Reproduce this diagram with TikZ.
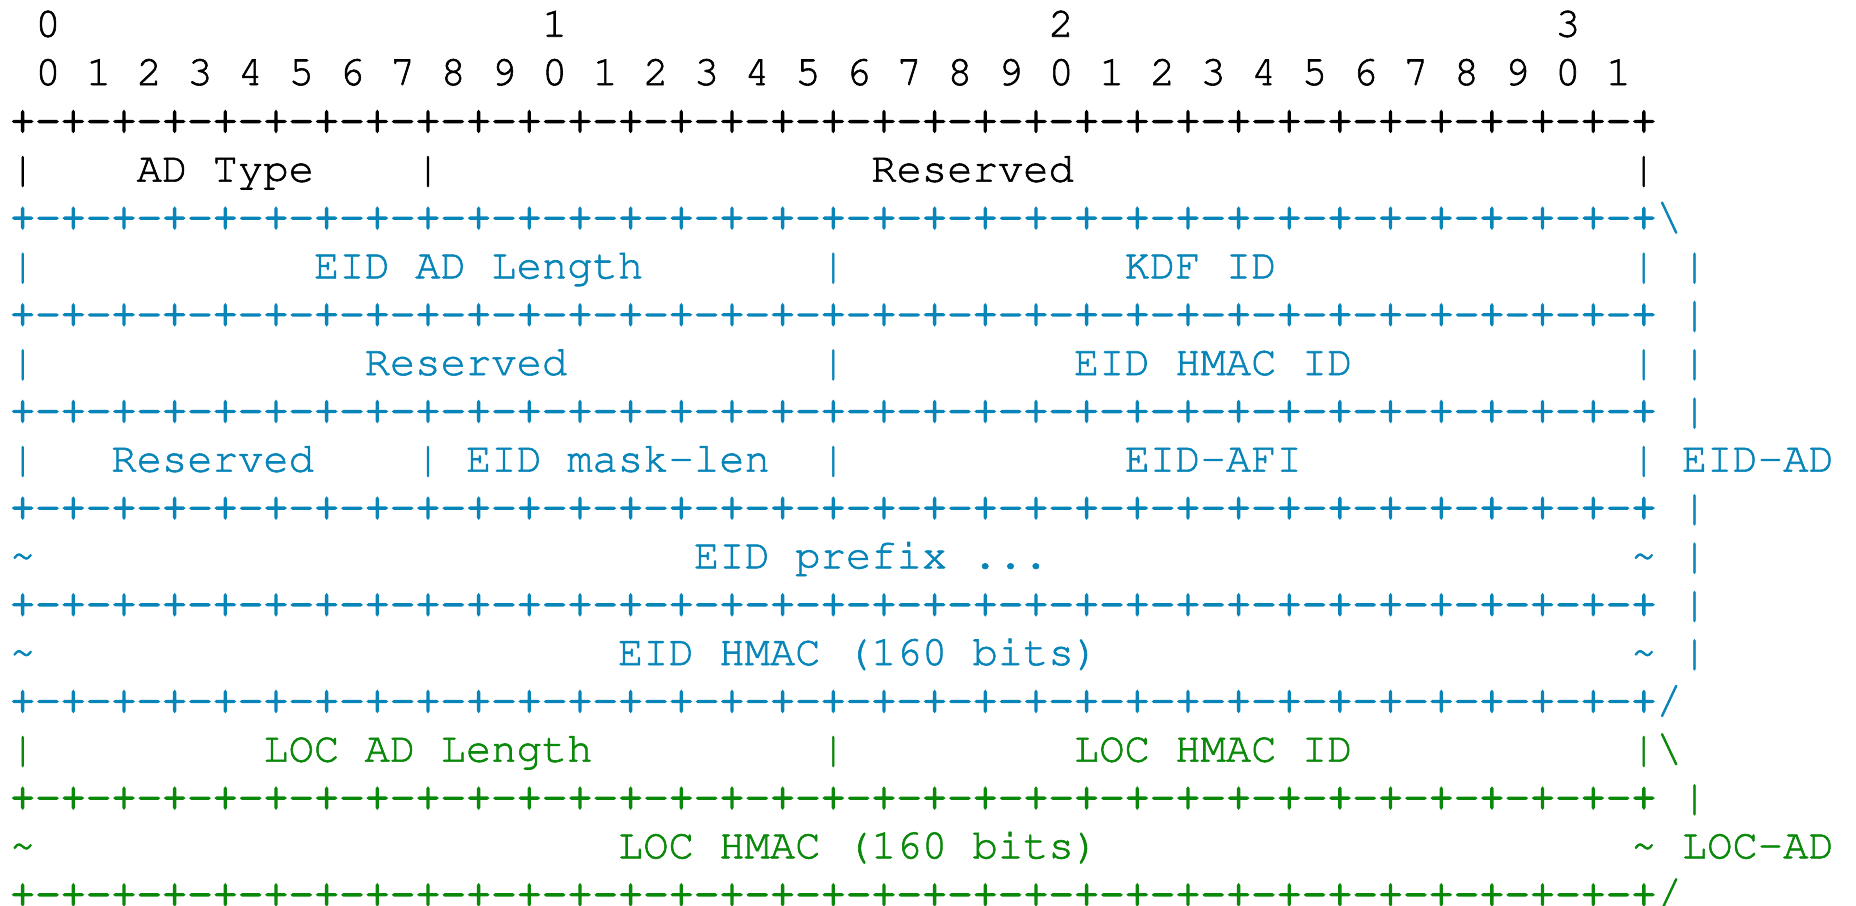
\documentclass[tikz,border=0pt]{standalone}
\usepackage[T1,TU]{fontenc}
\usepackage{xcolor}

% Courier in a 21.11pt size: one character cell is 12.665pt wide
\newcommand\courfont{\fontencoding{T1}\fontfamily{pcr}\fontseries{m}\fontshape{n}\fontsize{21.11pt}{24pt}\selectfont}
% glyphs are filled and stroked, which gives them a heavier weight
\newcommand\strokewidth[1]{\special{pdf:literal direct 2 Tr #1 w}}

\definecolor{eidblue}{HTML}{0784B8}
\definecolor{locgreen}{HTML}{0A880A}

% one 32-bit border line: "+-" 32 times and a closing "+"
\newcommand\rulepart{+-+-+-+-+-+-+-+-}
\newcommand\ruleline{\rulepart\rulepart\rulepart\rulepart+}

\begin{document}
\begin{tikzpicture}[
  x=12.665pt, y=-24.165pt,
  cell/.style={anchor=base west, inner sep=0pt, outer sep=0pt,
               font=\courfont\strokewidth{0.3}},
  border/.style={cell, font=\courfont\strokewidth{0.8}},
  hdr/.style={cell, text=black},
  eid/.style={cell, text=eidblue},
  loc/.style={cell, text=locgreen}]

\useasboundingbox (-0.3948,-0.7594) rectangle (72.878,17.966);

% bit-number header
\node[hdr] (ten0) at (1,0)  {0};
\node[hdr] (ten1) at (21,0) {1};
\node[hdr] (ten2) at (41,0) {2};
\node[hdr] (ten3) at (61,0) {3};
\foreach \i in {0,...,31}{
  \pgfmathtruncatemacro\d{mod(\i,10)}
  \node[hdr] (bit\i) at ({1+2*\i},1) {\d};
}

% AD type word
\node[hdr,border] (rule2) at (0,2) {\ruleline};
\node[hdr] (l3)   at (0,3)  {|};
\node[hdr] (adtype) at (5,3) {AD Type};
\node[hdr] (m3)   at (16,3) {|};
\node[hdr] (res3) at (34,3) {Reserved};
\node[hdr] (r3)   at (64,3) {|};

% EID authentication data
\node[eid,border] (rule4) at (0,4) {\ruleline};
\node[eid] (eidtop) at (65,4) {\textbackslash};

\node[eid] (l5)   at (0,5)  {|};
\node[eid] (eidlen) at (12,5) {EID AD Length};
\node[eid] (m5)   at (32,5) {|};
\node[eid] (kdf)  at (44,5) {KDF ID};
\node[eid] (r5)   at (64,5) {|};
\node[eid] (s5)   at (66,5) {|};

\node[eid,border] (rule6) at (0,6) {\ruleline};
\node[eid] (s6)   at (66,6) {|};

\node[eid] (l7)   at (0,7)  {|};
\node[eid] (res7) at (14,7) {Reserved};
\node[eid] (m7)   at (32,7) {|};
\node[eid] (hmacid) at (42,7) {EID HMAC ID};
\node[eid] (r7)   at (64,7) {|};
\node[eid] (s7)   at (66,7) {|};

\node[eid,border] (rule8) at (0,8) {\ruleline};
\node[eid] (s8)   at (66,8) {|};

\node[eid] (l9)   at (0,9)  {|};
\node[eid] (res9) at (4,9)  {Reserved};
\node[eid] (m9a)  at (16,9) {|};
\node[eid] (mask) at (18,9) {EID mask-len};
\node[eid] (m9b)  at (32,9) {|};
\node[eid] (afi)  at (44,9) {EID-AFI};
\node[eid] (r9)   at (64,9) {|};
\node[eid] (eidad) at (66,9) {EID-AD};

\node[eid,border] (rule10) at (0,10) {\ruleline};
\node[eid] (s10)  at (66,10) {|};

\node[eid] (l11)  at (0,11)  {\textasciitilde};
\node[eid] (prefix) at (27,11) {EID prefix ...};
\node[eid] (r11)  at (64,11) {\textasciitilde};
\node[eid] (s11)  at (66,11) {|};

\node[eid,border] (rule12) at (0,12) {\ruleline};
\node[eid] (s12)  at (66,12) {|};

\node[eid] (l13)  at (0,13)  {\textasciitilde};
\node[eid] (eidhmac) at (24,13) {EID HMAC (160 bits)};
\node[eid] (r13)  at (64,13) {\textasciitilde};
\node[eid] (s13)  at (66,13) {|};

\node[eid,border] (rule14) at (0,14) {\ruleline};
\node[eid] (eidbot) at (65,14) {/};

% LOC authentication data
\node[loc] (l15)  at (0,15)  {|};
\node[loc] (loclen) at (10,15) {LOC AD Length};
\node[loc] (m15)  at (32,15) {|};
\node[loc] (lochmacid) at (42,15) {LOC HMAC ID};
\node[loc] (r15)  at (64,15) {|};
\node[loc] (loctop) at (65,15) {\textbackslash};

\node[loc,border] (rule16) at (0,16) {\ruleline};
\node[loc] (s16)  at (66,16) {|};

\node[loc] (l17)  at (0,17)  {\textasciitilde};
\node[loc] (lochmac) at (24,17) {LOC HMAC (160 bits)};
\node[loc] (r17)  at (64,17) {\textasciitilde};
\node[loc] (locad) at (66,17) {LOC-AD};

\node[loc,border] (rule18) at (0,18) {\ruleline};
\node[loc] (locbot) at (65,18) {/};

\end{tikzpicture}
\end{document}
